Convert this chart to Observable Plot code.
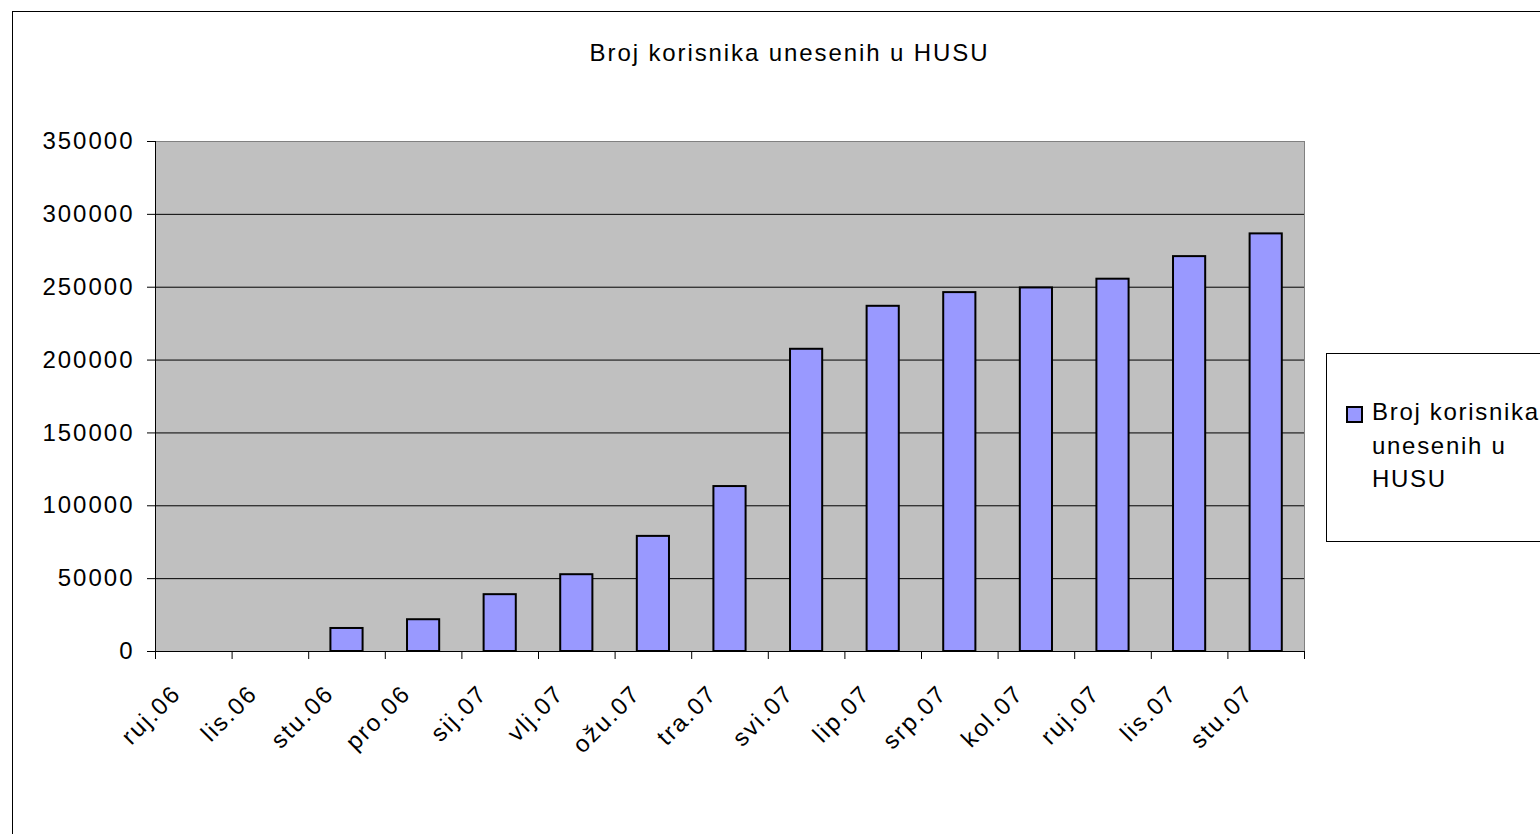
<!DOCTYPE html>
<html>
<head>
<meta charset="utf-8">
<script src="https://cdn.jsdelivr.net/npm/d3@7"></script>
<script src="https://cdn.jsdelivr.net/npm/@observablehq/plot@0.6"></script>
<style>
  html, body { margin: 0; padding: 0; background: #fff; overflow: hidden; }
  #wrap { position: relative; width: 1540px; height: 834px; overflow: hidden; font-family: "Liberation Sans", Arial, sans-serif; color: #000; }
  #border { position: absolute; left: 12px; top: 11px; width: 1600px; height: 900px; border: 1px solid #000; box-sizing: border-box; }
  #chart { position: absolute; left: 0; top: 0; }
  #title { position: absolute; top: 41px; left: 789.5px; transform: translateX(-50%); white-space: nowrap; font-size: 24px; line-height: 24px; letter-spacing: 1.9px; }
  #legend { position: absolute; left: 1326px; top: 353px; width: 300px; height: 189px; border: 1px solid #000; box-sizing: border-box; background: #fff; }
  #swatch { position: absolute; left: 19px; top: 52px; width: 17px; height: 17px; box-sizing: border-box; border: 2px solid #000; }
  #ltext { position: absolute; left: 45px; top: 41px; font-size: 24px; line-height: 33.5px; letter-spacing: 1.7px; white-space: nowrap; }
</style>
</head>
<body>
<div id="wrap">
  <div id="border"></div>
  <div id="chart"></div>
  <div id="title"></div>
  <div id="legend"><div id="swatch"></div><div id="ltext"></div></div>
</div>
<script>
const months = ["ruj.06","lis.06","stu.06","pro.06","sij.07","vlj.07","ožu.07","tra.07","svi.07","lip.07","srp.07","kol.07","ruj.07","lis.07","stu.07"];
const users = [0, 0, 15800, 21800, 39000, 52700, 79000, 113200, 207400, 236900, 246300, 249500, 255500, 271000, 286600];
const yTicks = [0, 50000, 100000, 150000, 200000, 250000, 300000, 350000];
const titleText = "Broj korisnika unesenih u HUSU";
const legendLines = ["Broj korisnika", "unesenih u", "HUSU"];
const barColor = "#9999ff";

const data = months.map((m, i) => ({month: m, i, value: users[i]}));

const chart = Plot.plot({
  width: 1540,
  height: 834,
  marginLeft: 155,
  marginRight: 236,
  marginTop: 141,
  marginBottom: 183,
  style: {fontFamily: "'Liberation Sans', Arial, sans-serif", fontSize: "24px", letterSpacing: "2px", background: "transparent", color: "#000", overflow: "visible"},
  x: {type: "linear", domain: [0, months.length], axis: null},
  y: {domain: [0, 350000], axis: null},
  marks: [
    Plot.frame({fill: "#c0c0c0", stroke: "#808080"}),
    Plot.ruleY(yTicks.slice(1, -1), {stroke: "#000", strokeWidth: 1}),
    Plot.rectY(data, {filter: d => d.value > 0, x1: d => d.i + 0.29, x2: d => d.i + 0.71, y1: 0, y2: "value", fill: barColor, stroke: "#000", strokeWidth: 2}),
    Plot.ruleX([0], {stroke: "#000"}),
    Plot.ruleY([0], {stroke: "#000"}),
    Plot.axisY({ticks: yTicks, tickSize: 8, tickPadding: 13, tickFormat: d => String(d), label: null, stroke: "#000", fill: "#000", fontSize: 24}),
    Plot.axisX({ticks: d3.range(months.length + 1), tickSize: 8, tickFormat: () => "", label: null, stroke: "#000"}),
    Plot.text(data, {x: d => d.i + 0.5, text: "month", frameAnchor: "bottom", dx: -17, dy: 38, rotate: -45, textAnchor: "end", lineAnchor: "middle", fontSize: 24, fill: "#000"})
  ]
});
document.getElementById("chart").appendChild(chart);
document.getElementById("title").textContent = titleText;
document.getElementById("swatch").style.background = barColor;
document.getElementById("ltext").innerHTML = legendLines.map(s => s.replace(/&/g, "&amp;").replace(/</g, "&lt;")).join("<br>");
</script>
</body>
</html>
